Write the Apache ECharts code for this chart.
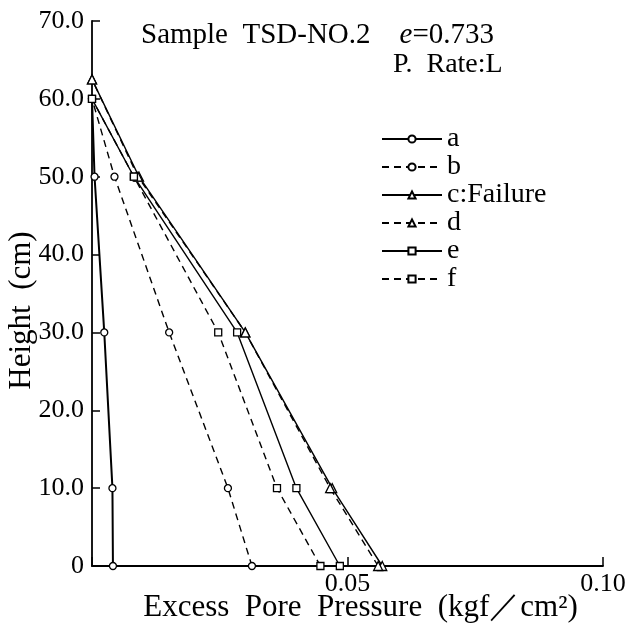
<!DOCTYPE html>
<html>
<head>
<meta charset="utf-8">
<script src="https://cdn.jsdelivr.net/npm/echarts@6/dist/echarts.min.js"></script>
<style>
html,body{margin:0;padding:0;background:#fff;}
#chart{width:630px;height:628px;}
</style>
</head>
<body>
<div id="chart"></div>
<script>
// Heights (cm) of the measuring points
const heights = [0, 10, 30, 50, 60];
const heightsTri = [0, 10, 30, 50, 62.5];
// Excess pore pressure (kgf/cm2) at each height
const seriesA = [0.0041, 0.0040, 0.0024, 0.0005, 0.0];
const seriesB = [0.0313, 0.0266, 0.0151, 0.0044, 0.0];
const seriesC = [0.0568, 0.0470, 0.0300, 0.0092, 0.0];
const seriesD = [0.0560, 0.0466, 0.0300, 0.0090, 0.0];
const seriesE = [0.0485, 0.0400, 0.0284, 0.0082, 0.0];
const seriesF = [0.0447, 0.0362, 0.0247, 0.0082, 0.0];
const seriesNames = ['a', 'b', 'c:Failure', 'd', 'e', 'f'];
const yTicks = [0, 10, 20, 30, 40, 50, 60, 70];
const xTicks = [0, 0.05, 0.10];

const FONT = "'Liberation Serif','DejaVu Serif',serif";
const pair = (xs, hs) => xs.map((v, i) => [v, hs[i]]);
const dash = [7, 5];

function mk(name, xs, hs, symbol, size, dashed, width) {
  return {
    name: name, type: 'line', data: pair(xs, hs),
    symbol: symbol, symbolSize: size, clip: false,
    lineStyle: {color: '#000', width: width, type: dashed ? dash : 'solid'},
    itemStyle: {color: '#fff', borderColor: '#000', borderWidth: 1.3},
    emphasis: {disabled: true}
  };
}

const chart = echarts.init(document.getElementById('chart'), null, {renderer: 'canvas'});
chart.setOption({
  animation: false,
  backgroundColor: '#fff',
  textStyle: {fontFamily: FONT, color: '#000'},
  title: [
    {text: '{n|Sample  TSD-NO.2    }{i|e}{n|=0.733}', left: 136, top: 16,
     textStyle: {fontWeight: 'normal',
       rich: {n: {fontFamily: FONT, fontSize: 29, fontWeight: 'normal', color: '#000'},
              i: {fontFamily: FONT, fontSize: 29, fontStyle: 'italic', fontWeight: 'normal', color: '#000'}}}},
    {text: 'P.  Rate:L', left: 388, top: 46,
     textStyle: {fontFamily: FONT, fontSize: 28, fontWeight: 'normal', color: '#000'}}
  ],
  legend: {
    orient: 'vertical', left: 376, top: 120, itemWidth: 60, itemHeight: 9, itemGap: 0,
    data: seriesNames,
    textStyle: {fontFamily: FONT, fontSize: 28, color: '#000'},
    inactiveColor: '#000'
  },
  grid: {left: 92, right: 27, top: 21, bottom: 62, containLabel: false, outerBoundsMode: 'none'},
  xAxis: {
    type: 'value', min: 0, max: 0.10, interval: 0.05,
    name: 'Excess  Pore  Pressure  (kgf／cm²)', nameLocation: 'middle', nameGap: 26,
    nameMoveOverlap: false,
    nameTextStyle: {fontFamily: FONT, fontSize: 31, color: '#000', padding: [0, 0, 0, 26]},
    axisLine: {lineStyle: {color: '#000', width: 1.8}},
    axisTick: {inside: true, length: 9, lineStyle: {color: '#000', width: 1.5}},
    axisLabel: {fontFamily: FONT, fontSize: 26, color: '#000', margin: 5,
      formatter: v => v === 0 ? '' : v.toFixed(2)},
    splitLine: {show: false}
  },
  yAxis: {
    type: 'value', min: 0, max: 70, interval: 10,
    name: 'Height  (cm)', nameLocation: 'middle', nameGap: 55, nameRotate: 90,
    nameMoveOverlap: false,
    nameTextStyle: {fontFamily: FONT, fontSize: 31, color: '#000', padding: [0, 34, 0, 0]},
    axisLine: {lineStyle: {color: '#000', width: 1.8}},
    axisTick: {inside: true, length: 8, lineStyle: {color: '#000', width: 1.5}},
    axisLabel: {fontFamily: FONT, fontSize: 26, color: '#000', margin: 8,
      formatter: v => v === 0 ? '0' : v.toFixed(1)},
    splitLine: {show: false}
  },
  series: [
    mk(seriesNames[0], seriesA, heights, 'circle', 7, false, 2),
    mk(seriesNames[1], seriesB, heights, 'circle', 7, true, 1.4),
    mk(seriesNames[2], seriesC, heightsTri, 'triangle', 9, false, 1.4),
    mk(seriesNames[3], seriesD, heightsTri, 'triangle', 9, true, 1.4),
    mk(seriesNames[4], seriesE, heights, 'rect', 7, false, 1.4),
    mk(seriesNames[5], seriesF, heights, 'rect', 7, true, 1.4)
  ]
});
</script>
</body>
</html>
